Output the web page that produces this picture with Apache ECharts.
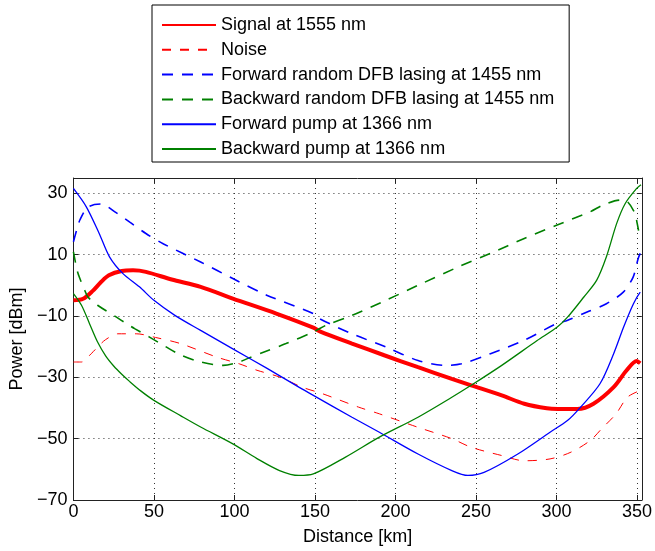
<!DOCTYPE html>
<html><head><meta charset="utf-8">
<script src="https://cdn.jsdelivr.net/npm/echarts@6/dist/echarts.min.js"></script>
<style>html,body{margin:0;padding:0;background:#fff}#c{width:655px;height:551px}</style>
</head><body><div id="c"></div>
<script>
const seriesNames = ['Signal at 1555 nm','Noise','Forward random DFB lasing at 1455 nm','Backward random DFB lasing at 1455 nm','Forward pump at 1366 nm','Backward pump at 1366 nm'];
const xTicks = [0,50,100,150,200,250,300,350];
const yTicks = [-70,-50,-30,-10,10,30];

const signalX = [0,6,12,17,22,30,37,45,61,79,99,126,149,153,173,193,214,235,247,266,280,294,301,313,323,335.5,343.6,349.8,352];
const signalY = [-4.9,-4.4,-1.8,1,3.3,4.7,4.9,4.4,1.9,-0.5,-4.3,-9.2,-13.8,-15,-19,-22.8,-26.7,-30.5,-32.6,-35.9,-38.6,-40.1,-40.3,-40.3,-38.6,-33.2,-27.7,-24.7,-25.4];

const noiseX = [0,5,11,16,20,27.5,39,51,66.5,89,103,114,128,142,155,177,190,214,235,247,266,280,296,309,321,328,337,344,351];
const noiseY = [-25,-25,-22.3,-19.6,-17.7,-15.8,-15.8,-17,-19,-23.4,-25.6,-27.7,-29.9,-33.2,-35.4,-39.7,-41.9,-46.3,-50,-52.8,-55.5,-57.2,-56.6,-54.4,-50.6,-46.8,-41.9,-36.5,-34.5];

const fwdDfbX = [0,2,4,9,17,26.5,35,45,56,79,99,120,149,153,173,194,214,231,241,259,280,300,307,319,331,341.5,347.6,350.7,352];
const fwdDfbY = [14.2,18,21.3,25.5,26.5,23.7,20.6,16.9,13.5,7.6,2.2,-3.2,-9.2,-10.9,-15.8,-20.1,-24.5,-26.1,-25.6,-22.3,-17.9,-12.5,-11.4,-8.7,-6,-2.2,2.7,8.7,10.4];

const bwdDfbX = [0,2.3,4,7,9,15,26.5,33,38,47,57,67,79,93,103,108,118,132,149,157,173,194,214,239,259,280,300,321,329,339.5,344,348.7,350,352];
const bwdDfbY = [10.9,4.9,2.2,-1.6,-3.8,-6.5,-10.3,-12.5,-14.1,-16.8,-19.9,-22.8,-25,-26.1,-25,-23.9,-21.8,-19,-15.2,-13,-9.8,-4.9,0,6,10.4,15.3,19.6,24,26.2,27.8,27.3,23.5,20.5,15];

const fwdPumpX = [0,8,16,22.4,30.6,41,50,63,79,99,120,140,149,173,190,214,235,245,255,276,296,307,315,327,335.5,341.7,347.8,352];
const fwdPumpY = [31.6,25.6,16.9,9.3,3.9,-0.5,-4.9,-9.8,-14.7,-20.7,-27,-33.2,-35.9,-43,-47.9,-55,-60.4,-62,-61,-55,-47.9,-44,-39.7,-32.1,-22.3,-13.6,-6,-2.2];

const bwdPumpX = [0,5,10,15,20,25,30,35,42,50,66.5,79,99,114,128,140,149,169,190,214,235,247,266,288,300.5,307,317,325,331,337.4,342.7,349.8,352.5];
const bwdPumpY = [-2.7,-6.5,-12.5,-18.5,-23,-26.3,-29,-31.4,-34.5,-37.5,-42.5,-46.2,-51.7,-56.5,-60.4,-62,-61.5,-56,-49.5,-43,-36.5,-32.6,-26.1,-18,-13.6,-10.3,-3.8,1.7,9.3,20.2,26.7,31.6,32.8];

function pairs(xs, ys){ return xs.map((x,i)=>[x, ys[i]]); }

const FONT = 'Liberation Sans, Arial, Helvetica, sans-serif';
const chart = echarts.init(document.getElementById('c'));

function mk(name, xs, ys, color, width, type){
  return {
    name, type:'line', data: pairs(xs, ys), xAxisIndex:0, yAxisIndex:0,
    symbol:'none', smooth:0.3, animation:false,
    lineStyle:{color, width, type},
    itemStyle:{color}
  };
}
const axisCommon = {
  type:'value',
  axisLine:{show:true, onZero:false, lineStyle:{color:'#222', width:1}},
  axisTick:{show:true, inside:true, length:5, lineStyle:{color:'#222'}},
  splitLine:{show:false},
};
const labelStyle = {fontFamily:FONT, fontSize:18, color:'#000'};
chart.setOption({
  animation:false,
  backgroundColor:'#fff',
  grid:{left:72, top:178, right:10, bottom:50, containLabel:false},
  legend:{
    orient:'vertical', left:152, top:5,
    padding:[11,15,4,9],
    itemWidth:54, itemHeight:18, itemGap:6.8,
    backgroundColor:'#fff', borderColor:'#000', borderWidth:1,
    itemStyle:{opacity:0},
    textStyle:{fontFamily:FONT, fontSize:18, lineHeight:18, color:'#000'},
    data: seriesNames
  },
  xAxis:[
    Object.assign({}, axisCommon, {
      position:'bottom', min:0, max:353, interval:50,
      name:'Distance [km]', nameLocation:'middle', nameGap:28,
      nameTextStyle:labelStyle,
      axisLabel:Object.assign({margin:3, showMaxLabel:false,
        formatter:v=> xTicks.includes(v) ? String(v) : ''}, labelStyle),
      splitLine:{show:true, lineStyle:{color:'#333', type:[1,4], width:1}}
    }),
    Object.assign({}, axisCommon, {
      position:'top', min:0, max:353, interval:50, axisLabel:{show:false}
    })
  ],
  yAxis:[
    Object.assign({}, axisCommon, {
      position:'left', min:-70, max:35, interval:20,
      name:'Power [dBm]', nameLocation:'middle', nameGap:46,
      nameTextStyle:labelStyle,
      axisLabel:Object.assign({margin:6, showMaxLabel:false,
        formatter:v=> yTicks.includes(v) ? String(v).replace('-', '\u2212') : ''}, labelStyle),
      splitLine:{show:true, lineStyle:{color:'#333', type:[1,4], width:1}}
    }),
    Object.assign({}, axisCommon, {
      position:'right', min:-70, max:35, interval:20, axisLabel:{show:false}
    })
  ],
  series:[
    mk(seriesNames[0], signalX, signalY, '#ff0000', 4, 'solid'),
    mk(seriesNames[1], noiseX, noiseY, '#ff0000', 1, [9,9]),
    mk(seriesNames[2], fwdDfbX, fwdDfbY, '#0000ff', 1.6, [11,9]),
    mk(seriesNames[3], bwdDfbX, bwdDfbY, '#008000', 1.6, [11,9]),
    mk(seriesNames[4], fwdPumpX, fwdPumpY, '#0000ff', 1.3, 'solid'),
    mk(seriesNames[5], bwdPumpX, bwdPumpY, '#008000', 1.3, 'solid')
  ]
});
</script></body></html>
